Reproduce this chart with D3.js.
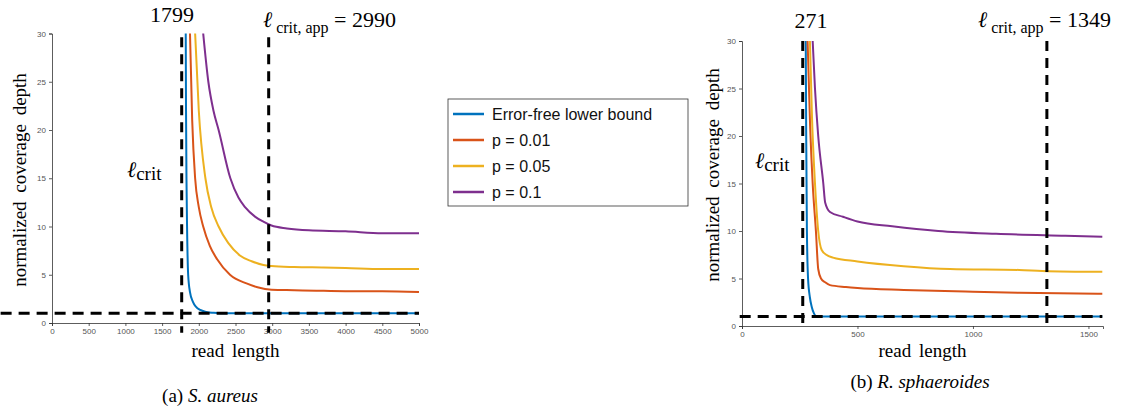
<!DOCTYPE html>
<html>
<head>
<meta charset="utf-8">
<script src="https://cdn.jsdelivr.net/npm/d3@7"></script>
<style>
  body { margin: 0; background: #fff; }
  .serif { font-family: "Liberation Serif", "Times New Roman", serif; fill: #000; }
  .tick text { font-family: "Liberation Sans", Arial, sans-serif; font-size: 8px; fill: #555; }
  .tick line, .domain { stroke: #333; stroke-width: 0.8; }
</style>
</head>
<body>
<div id="chart"></div>
<script>
// Series names and colours (MATLAB defaults)
const seriesNames = ['Error-free lower bound', 'p = 0.01', 'p = 0.05', 'p = 0.1'];
const seriesColors = ['#0072BD', '#D95319', '#EDB120', '#7E2F8E'];

// (a) S. aureus
const aureusTicksX = [0, 500, 1000, 1500, 2000, 2500, 3000, 3500, 4000, 4500, 5000];
const aureusFreeX = [1822, 1826, 1832, 1840, 1855, 1880, 1920, 1960, 2020, 2100, 2200, 2300, 3000, 4000, 5000];
const aureusFreeY = [30, 22, 15, 10, 5, 3.2, 2.2, 1.7, 1.35, 1.15, 1.05, 1.0, 1.0, 1.0, 1.0];
const aureusP01X = [1880, 1910, 1950, 2000, 2060, 2150, 2250, 2425, 2650, 2800, 2990, 3300, 3600, 4000, 4500, 5000];
const aureusP01Y = [30, 21, 15, 12, 10, 8, 6.6, 5, 4.1, 3.7, 3.45, 3.4, 3.35, 3.3, 3.3, 3.2];
const aureusP05X = [1950, 2000, 2090, 2170, 2270, 2400, 2560, 2720, 2880, 2990, 3300, 3700, 4000, 4500, 5000];
const aureusP05Y = [30, 22, 15, 12, 10, 8.3, 7, 6.4, 6, 5.9, 5.8, 5.75, 5.7, 5.6, 5.6];
const aureusP1X = [2060, 2130, 2200, 2270, 2430, 2540, 2630, 2770, 2880, 2990, 3200, 3500, 4000, 4500, 5000];
const aureusP1Y = [30, 25, 22, 20, 15, 13, 12, 11, 10.5, 10.1, 9.8, 9.6, 9.5, 9.3, 9.3];
const aureusCrit = [1767, 2952];         // drawn positions of the dashed verticals
const aureusCritText = ['1799', '2990'];
const aureusHLineX = [-700, 5000];

// (b) R. sphaeroides
const sphaerTicksX = [0, 500, 1000, 1500];
const sphaerFreeX = [276, 278, 281, 286, 294, 302, 312, 323, 400, 800, 1200, 1560];
const sphaerFreeY = [30, 20, 10, 5, 3, 2, 1.3, 1.0, 1, 1, 1, 1];
const sphaerP01X = [284, 295, 306, 320, 330, 342, 360, 381, 450, 500, 700, 1000, 1200, 1560];
const sphaerP01Y = [30, 21, 15, 10, 6, 5, 4.6, 4.3, 4.1, 4.0, 3.8, 3.6, 3.5, 3.4];
const sphaerP05X = [294, 303, 316, 330, 345, 365, 394, 500, 700, 900, 1200, 1300, 1560];
const sphaerP05Y = [30, 22, 15, 10, 8, 7.5, 7.2, 6.8, 6.3, 6.0, 5.9, 5.8, 5.7];
const sphaerP1X = [306, 316, 330, 352, 360, 381, 437, 500, 650, 850, 1100, 1400, 1560];
const sphaerP1Y = [30, 25, 20, 15, 13, 12, 11.5, 11, 10.5, 10, 9.7, 9.5, 9.4];
const sphaerCrit = [263, 1320];
const sphaerCritText = ['271', '1349'];
const sphaerHLineX = [-10, 1560];

const ticksY = [0, 5, 10, 15, 20, 25, 30];

const svg = d3.select("#chart")
    .append("svg")
    .attr("width", 1127)
    .attr("height", 412);

const panels = [
    {
        xs: [aureusFreeX, aureusP01X, aureusP05X, aureusP1X],
        ys: [aureusFreeY, aureusP01Y, aureusP05Y, aureusP1Y],
        ticksX: aureusTicksX, domainX: [0, 5000],
        rangeX: [52, 419], rangeY: [323, 33.5],
        crit: aureusCrit, critText: aureusCritText, hLineX: aureusHLineX,
        vTop: 29.6, vBottom: -1.0,
        ylabX: 19, ylabY: 180, xlabY: 357,
        caption: ['(a) ', 'S. aureus'], capX: 210, capY: 402,
        lcrit: { x: 127, y: 177 },
        c1: { x: 172, y: 22 },
        c2: { x: 263, y: 27 }
    },
    {
        xs: [sphaerFreeX, sphaerP01X, sphaerP05X, sphaerP1X],
        ys: [sphaerFreeY, sphaerP01Y, sphaerP05Y, sphaerP1Y],
        ticksX: sphaerTicksX, domainX: [0, 1563],
        rangeX: [742, 1103], rangeY: [326, 41],
        crit: sphaerCrit, critText: sphaerCritText, hLineX: sphaerHLineX,
        vTop: 30, vBottom: -0.3,
        ylabX: 712, ylabY: 175, xlabY: 357,
        caption: ['(b) ', 'R. sphaeroides'], capX: 920, capY: 388,
        lcrit: { x: 755, y: 168 },
        c1: { x: 811, y: 28 },
        c2: { x: 978, y: 27 }
    }
];

panels.forEach(p => {
    const x = d3.scaleLinear().domain(p.domainX).range(p.rangeX);
    const y = d3.scaleLinear().domain([0, 30]).range(p.rangeY);

    // axes
    svg.append("g")
        .attr("transform", `translate(0,${p.rangeY[0]})`)
        .call(d3.axisBottom(x).tickValues(p.ticksX).tickFormat(d3.format("d")).tickSize(3).tickPadding(2));
    svg.append("g")
        .attr("transform", `translate(${p.rangeX[0]},0)`)
        .call(d3.axisLeft(y).tickValues(ticksY).tickSize(3).tickPadding(3));

    // curves
    const line = d3.line()
        .x(d => x(d[0]))
        .y(d => y(d[1]))
        .curve(d3.curveMonotoneX);

    p.xs.forEach((xs, i) => {
        svg.append("path")
            .datum(xs.map((v, j) => [v, p.ys[i][j]]))
            .attr("fill", "none")
            .attr("stroke", seriesColors[i])
            .attr("stroke-width", 2)
            .attr("d", line);
    });

    // dashed reference lines
    p.crit.forEach(c => {
        svg.append("line")
            .attr("x1", x(c)).attr("x2", x(c))
            .attr("y1", y(p.vTop)).attr("y2", y(p.vBottom))
            .attr("stroke", "#000").attr("stroke-width", 3)
            .attr("stroke-dasharray", "10,7");
    });
    svg.append("line")
        .attr("x1", x(p.hLineX[0])).attr("x2", x(p.hLineX[1]))
        .attr("y1", y(1)).attr("y2", y(1))
        .attr("stroke", "#000").attr("stroke-width", 3)
        .attr("stroke-dasharray", "11,7");

    // labels
    svg.append("text").attr("class", "serif")
        .attr("transform", `translate(${p.ylabX},${p.ylabY}) rotate(-90)`)
        .attr("text-anchor", "middle").attr("dy", "0.35em")
        .style("font-size", "19px").style("word-spacing", "4px")
        .text("normalized coverage depth");

    svg.append("text").attr("class", "serif")
        .attr("x", (p.rangeX[0] + p.rangeX[1]) / 2).attr("y", p.xlabY)
        .attr("text-anchor", "middle")
        .style("font-size", "19px").style("word-spacing", "3px")
        .text("read length");

    const cap = svg.append("text").attr("class", "serif")
        .attr("x", p.capX).attr("y", p.capY)
        .attr("text-anchor", "middle")
        .style("font-size", "19px");
    cap.append("tspan").text(p.caption[0]);
    cap.append("tspan").style("font-style", "italic").text(p.caption[1]);

    // ℓcrit
    const lc = svg.append("text").attr("class", "serif")
        .attr("x", p.lcrit.x).attr("y", p.lcrit.y)
        .style("font-size", "22px");
    lc.append("tspan").style("font-family", "DejaVu Serif").style("font-style", "italic").text("ℓ");
    lc.append("tspan").attr("dy", 3).style("font-size", "19px").text("crit");

    svg.append("text").attr("class", "serif")
        .attr("x", p.c1.x).attr("y", p.c1.y)
        .attr("text-anchor", "middle")
        .style("font-size", "22px")
        .text(p.critText[0]);

    const c2 = svg.append("text").attr("class", "serif")
        .attr("x", p.c2.x).attr("y", p.c2.y)
        .style("font-size", "22px");
    c2.append("tspan").style("font-family", "DejaVu Serif").style("font-style", "italic").text("ℓ");
    c2.append("tspan").attr("dy", 6).style("font-size", "16px").text(" crit, app");
    c2.append("tspan").attr("dy", -6).text(" = " + p.critText[1]);
});

// legend
const legend = svg.append("g").attr("transform", "translate(448,99)");
legend.append("rect")
    .attr("width", 240).attr("height", 107)
    .attr("fill", "#fff").attr("stroke", "#333").attr("stroke-width", 0.8);
seriesNames.forEach((name, i) => {
    const yy = 15 + i * 26;
    legend.append("line")
        .attr("x1", 5).attr("x2", 36).attr("y1", yy).attr("y2", yy)
        .attr("stroke", seriesColors[i]).attr("stroke-width", 2.5);
    legend.append("text")
        .attr("x", 44).attr("y", yy).attr("dy", "0.35em")
        .style("font-family", "Liberation Sans, Arial, sans-serif")
        .style("font-size", "16px").attr("fill", "#111")
        .text(name);
});
</script>
</body>
</html>
